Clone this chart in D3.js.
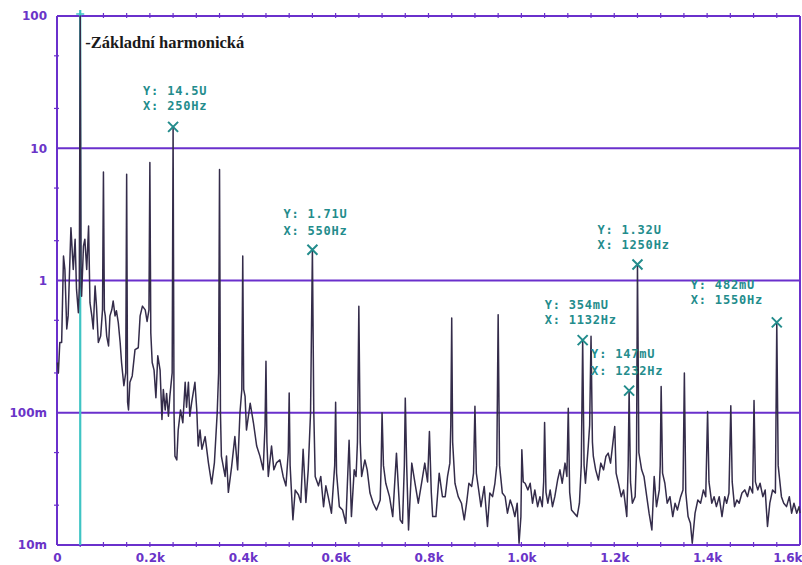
<!DOCTYPE html>
<html>
<head>
<meta charset="utf-8">
<script src="https://cdn.jsdelivr.net/npm/d3@7"></script>
<style>
  body { margin: 0; background: #fff; }
  svg { display: block; }
</style>
</head>
<body>
<svg id="chart" width="802" height="565"></svg>
<script>
// Amplitude spectrum of the measured voltage: [frequency in Hz, amplitude in V]
const spectrum = [
  [1,0.24],[3,0.2],[6,0.34],[10,0.34],[14,1.53],[17,1.21],[21,0.43],[24,0.54],[30,2.51],[35,1.21],
  [39,2.05],[42,0.86],[46,0.57],[48,0.9],[50,100],[52,0.9],[53,0.76],[57,1.82],[60,2.05],[64,1.21],
  [68,2.58],[71,0.68],[75,0.54],[78,0.43],[82,0.91],[85,0.64],[89,0.34],[94,0.38],[98,0.6],[100,6.6],
  [102,0.6],[104,0.54],[107,0.38],[111,0.32],[114,0.54],[118,0.6],[121,0.7],[125,0.54],[128,0.59],[132,0.48],
  [136,0.34],[139,0.24],[144,0.16],[148,0.2],[150,6.35],[152,0.12],[154,0.105],[157,0.17],[162,0.19],[168,0.3],
  [175,0.31],[179,0.54],[184,0.64],[190,0.6],[194,0.49],[198,0.6],[200,7.8],[202,0.4],[205,0.24],[209,0.21],
  [213,0.13],[217,0.27],[222,0.21],[226,0.089],[229,0.15],[233,0.105],[236,0.14],[240,0.094],[243,0.133],[248,0.2],
  [250,14.5],[252,0.1],[254,0.047],[258,0.044],[261,0.074],[266,0.105],[271,0.084],[276,0.17],[279,0.11],[283,0.17],
  [286,0.094],[290,0.12],[297,0.17],[301,0.105],[304,0.056],[308,0.074],[312,0.053],[319,0.066],[326,0.042],[333,0.029],
  [339,0.042],[345,0.1],[348,0.2],[350,6.9],[352,0.1],[354,0.047],[362,0.033],[365,0.047],[369,0.025],[376,0.039],
  [383,0.066],[389,0.037],[394,0.1],[398,0.15],[400,1.53],[402,0.15],[405,0.133],[408,0.074],[416,0.118],[423,0.084],
  [430,0.056],[437,0.047],[444,0.037],[448,0.08],[450,0.245],[452,0.06],[455,0.033],[462,0.056],[467,0.037],[473,0.042],
  [480,0.044],[487,0.033],[493,0.028],[498,0.05],[500,0.141],[502,0.04],[508,0.0155],[513,0.026],[520,0.024],[525,0.021],
  [530,0.053],[536,0.021],[541,0.037],[546,0.1],[550,1.71],[553,0.1],[556,0.033],[563,0.028],[568,0.033],[574,0.0195],
  [579,0.028],[584,0.0232],[591,0.0174],[598,0.04],[600,0.12],[602,0.035],[608,0.0195],[615,0.0184],[622,0.0146],[629,0.062],
  [634,0.0164],[640,0.037],[644,0.033],[647,0.06],[650,0.64],[653,0.06],[656,0.033],[663,0.044],[668,0.037],[674,0.0247],
  [681,0.0207],[688,0.0184],[696,0.0219],[698,0.04],[700,0.1],[703,0.04],[708,0.0293],[716,0.0232],[723,0.0164],[731,0.0495],
  [739,0.0155],[744,0.0146],[748,0.04],[750,0.129],[753,0.04],[757,0.013],[764,0.0416],[771,0.0293],[778,0.0207],[785,0.0293],
  [792,0.0416],[798,0.03],[802,0.072],[806,0.025],[809,0.0164],[816,0.0164],[823,0.0349],[830,0.0232],[836,0.0232],[841,0.033],
  [846,0.0416],[848,0.08],[850,0.52],[852,0.06],[857,0.0293],[864,0.0232],[871,0.0207],[877,0.0155],[882,0.0207],[887,0.0293],
  [893,0.0277],[897,0.0349],[900,0.112],[903,0.035],[907,0.0277],[913,0.0195],[920,0.0277],[927,0.0138],[932,0.0247],[938,0.0232],
  [943,0.0293],[947,0.04],[950,0.552],[953,0.04],[959,0.0247],[965,0.0232],[970,0.0174],[976,0.0219],[981,0.0195],[986,0.0164],
  [991,0.0207],[995,0.0103],[999,0.0164],[1001,0.0525],[1004,0.03],[1008,0.0293],[1014,0.0261],[1019,0.0293],[1024,0.0207],[1029,0.0261],
  [1035,0.0195],[1040,0.0232],[1045,0.0195],[1048,0.03],[1050,0.0845],[1053,0.025],[1057,0.0207],[1062,0.0261],[1067,0.0195],[1072,0.0232],
  [1078,0.031],[1083,0.037],[1088,0.0293],[1094,0.0416],[1098,0.033],[1101,0.108],[1104,0.025],[1108,0.0184],[1114,0.0174],[1120,0.0164],
  [1125,0.0207],[1129,0.04],[1132,0.354],[1135,0.04],[1138,0.0293],[1144,0.0556],[1147,0.08],[1150,0.379],[1153,0.06],[1155,0.0467],
  [1160,0.037],[1166,0.031],[1171,0.0416],[1177,0.037],[1182,0.0467],[1187,0.0495],[1192,0.0416],[1197,0.0589],[1201,0.0787],[1204,0.035],
  [1209,0.0293],[1215,0.0232],[1220,0.0261],[1227,0.0164],[1230,0.04],[1232,0.147],[1235,0.03],[1239,0.0207],[1245,0.0232],[1248,0.05],
  [1250,1.32],[1253,0.05],[1259,0.037],[1264,0.033],[1270,0.0232],[1275,0.0174],[1281,0.013],[1286,0.033],[1291,0.0195],[1297,0.0261],
  [1299,0.04],[1301,0.158],[1304,0.035],[1309,0.0293],[1314,0.0207],[1320,0.0232],[1326,0.0164],[1331,0.0207],[1336,0.0184],[1343,0.0232],
  [1348,0.0261],[1351,0.2],[1354,0.025],[1359,0.0164],[1364,0.0146],[1368,0.0103],[1374,0.0174],[1380,0.0219],[1386,0.0207],[1392,0.0261],
  [1397,0.0232],[1401,0.102],[1404,0.03],[1410,0.0207],[1415,0.0232],[1420,0.0195],[1426,0.0232],[1432,0.0164],[1438,0.0232],[1442,0.0207],
  [1447,0.0247],[1451,0.113],[1454,0.03],[1459,0.0195],[1464,0.0219],[1469,0.0207],[1475,0.0247],[1481,0.0261],[1487,0.0232],[1492,0.0277],
  [1498,0.0247],[1501,0.124],[1504,0.03],[1509,0.0261],[1514,0.0293],[1520,0.0232],[1525,0.0261],[1530,0.0138],[1535,0.0207],[1541,0.0261],
  [1547,0.0247],[1550,0.482],[1553,0.04],[1560,0.0232],[1565,0.0207],[1571,0.0195],[1577,0.0232],[1582,0.0174],[1587,0.0207],[1593,0.0174],
  [1598,0.0195],[1600,0.0174]
];

// Cursor readouts (frequency in Hz, amplitude in V)
const cursorHz = [250, 550, 1132, 1232, 1250, 1550];
const cursorV  = [14.5, 1.71, 0.354, 0.147, 1.32, 0.482];

// Fundamental harmonic
const fundamentalHz = 50;
const fundamentalLabel = "-Základní harmonická";

// Axis ticks
const yTicks = [100, 10, 1, 0.1, 0.01];
const yTickLabels = ["100", "10", "1", "100m", "10m"];
const xTicks = [0, 200, 400, 600, 800, 1000, 1200, 1400, 1600];
const xTickLabels = ["0", "0.2k", "0.4k", "0.6k", "0.8k", "1.0k", "1.2k", "1.4k", "1.6k"];

// Placement of each readout text relative to its cursor mark: [dx, dy of Y line, dy of X line]
const readoutOffsets = [[-30,-35,-20],[-29,-35,-18],[-38,-35,-20],[-38,-36,-19],[-40,-34,-19],[-86,-37,-22]];

const GRID = "#6a30cc";
const LABEL = "#6a34c8";
const TEAL = "#238c8c";
const TRACE = "#342c4a";

const svg = d3.select("#chart");
const W = 802, H = 565;
const plotLeft = 57, plotRight = 800, plotTop = 16, plotBottom = 545;

svg.append("rect").attr("width", W).attr("height", H).attr("fill", "#fff");

const x = d3.scaleLinear().domain([0, 1600]).range([plotLeft, plotRight]);
const y = d3.scaleLog().domain([0.01, 100]).range([plotBottom, plotTop]);

// Decade grid lines (the top and bottom ones double as the frame)
svg.append("g").selectAll("line").data(yTicks).join("line")
  .attr("x1", plotLeft).attr("x2", plotRight)
  .attr("y1", d => y(d)).attr("y2", d => y(d))
  .attr("stroke", GRID).attr("stroke-width", 2);

// Side frame lines
svg.append("line").attr("x1", plotLeft).attr("x2", plotLeft).attr("y1", plotTop).attr("y2", plotBottom)
  .attr("stroke", GRID).attr("stroke-width", 2);
svg.append("line").attr("x1", plotRight).attr("x2", plotRight).attr("y1", plotTop).attr("y2", plotBottom)
  .attr("stroke", GRID).attr("stroke-width", 2);

// Minor ticks along top and bottom edges every 50 Hz
const minorX = d3.range(50, 1600, 50);
[plotTop, plotBottom].forEach(yy => {
  svg.append("g").selectAll("line").data(minorX).join("line")
    .attr("x1", d => x(d)).attr("x2", d => x(d))
    .attr("y1", yy - 3).attr("y2", yy + 2)
    .attr("stroke", GRID).attr("stroke-width", 1.2);
});

// Minor ticks on the left edge at 2x and 5x each decade
const minorY = [];
yTicks.slice(1).forEach(d => { minorY.push(d * 2, d * 5); });
svg.append("g").selectAll("line").data(minorY).join("line")
  .attr("x1", plotLeft - 3).attr("x2", plotLeft + 2)
  .attr("y1", d => y(d)).attr("y2", d => y(d))
  .attr("stroke", GRID).attr("stroke-width", 1.2);

// Axis labels
const yAxis = d3.axisLeft(y).tickValues(yTicks)
  .tickFormat((d, i) => yTickLabels[i]).tickSize(0).tickPadding(10);
const gy = svg.append("g").attr("transform", `translate(${plotLeft},0)`).call(yAxis);
gy.select(".domain").remove();
gy.selectAll("text")
  .attr("fill", LABEL).attr("font-family", "DejaVu Sans").attr("font-weight", "bold")
  .attr("font-size", 12);

const xAxis = d3.axisBottom(x).tickValues(xTicks)
  .tickFormat((d, i) => xTickLabels[i]).tickSize(0).tickPadding(8);
const gx = svg.append("g").attr("transform", `translate(0,${plotBottom})`).call(xAxis);
gx.select(".domain").remove();
gx.selectAll("text")
  .attr("fill", LABEL).attr("font-family", "DejaVu Sans").attr("font-weight", "bold")
  .attr("font-size", 12);
// keep the last label inside the canvas
gx.selectAll(".tick").filter(d => d === 1600).select("text")
  .attr("text-anchor", "end").attr("x", W - plotRight);

// Cursor line on the fundamental
const fx = x(fundamentalHz);
svg.append("line").attr("x1", fx).attr("x2", fx).attr("y1", 10).attr("y2", plotBottom)
  .attr("stroke", "#3fc4c4").attr("stroke-width", 2.2);
svg.append("line").attr("x1", fx - 4).attr("x2", fx + 4).attr("y1", 14).attr("y2", 14)
  .attr("stroke", "#3fc4c4").attr("stroke-width", 1.5);

// Spectrum trace
const line = d3.line().x(d => x(d[0])).y(d => y(d[1]));
svg.append("path").datum(spectrum)
  .attr("d", line).attr("fill", "none")
  .attr("stroke", TRACE).attr("stroke-width", 1.5).attr("stroke-linejoin", "round");

// Fundamental label
svg.append("text").attr("x", fx + 5).attr("y", 44)
  .attr("dominant-baseline", "middle")
  .attr("font-family", "Liberation Serif").attr("font-weight", "bold").attr("font-size", 16.5)
  .attr("fill", "#1a1a1a").text(fundamentalLabel);

// Cursor marks with readouts
const fmtV = v => v >= 1 ? `${v}U` : `${Math.round(v * 1000)}mU`;
const cursors = cursorHz.map((f, i) => ({ f, v: cursorV[i], off: readoutOffsets[i] }));
const cg = svg.append("g").selectAll("g").data(cursors).join("g")
  .attr("transform", d => `translate(${x(d.f)},${y(d.v)})`);
cg.append("path").attr("d", "M-5,-5L5,5M-5,5L5,-5")
  .attr("stroke", TEAL).attr("stroke-width", 2).attr("fill", "none");
const ro = cg.append("g").attr("font-family", "DejaVu Sans Mono").attr("font-weight", "bold")
  .attr("font-size", 12).attr("fill", TEAL).attr("letter-spacing", 0.8);
ro.append("text").attr("x", d => d.off[0]).attr("y", d => d.off[1])
  .attr("dominant-baseline", "middle").text(d => `Y: ${fmtV(d.v)}`);
ro.append("text").attr("x", d => d.off[0]).attr("y", d => d.off[2])
  .attr("dominant-baseline", "middle").text(d => `X: ${d.f}Hz`);
</script>
</body>
</html>
